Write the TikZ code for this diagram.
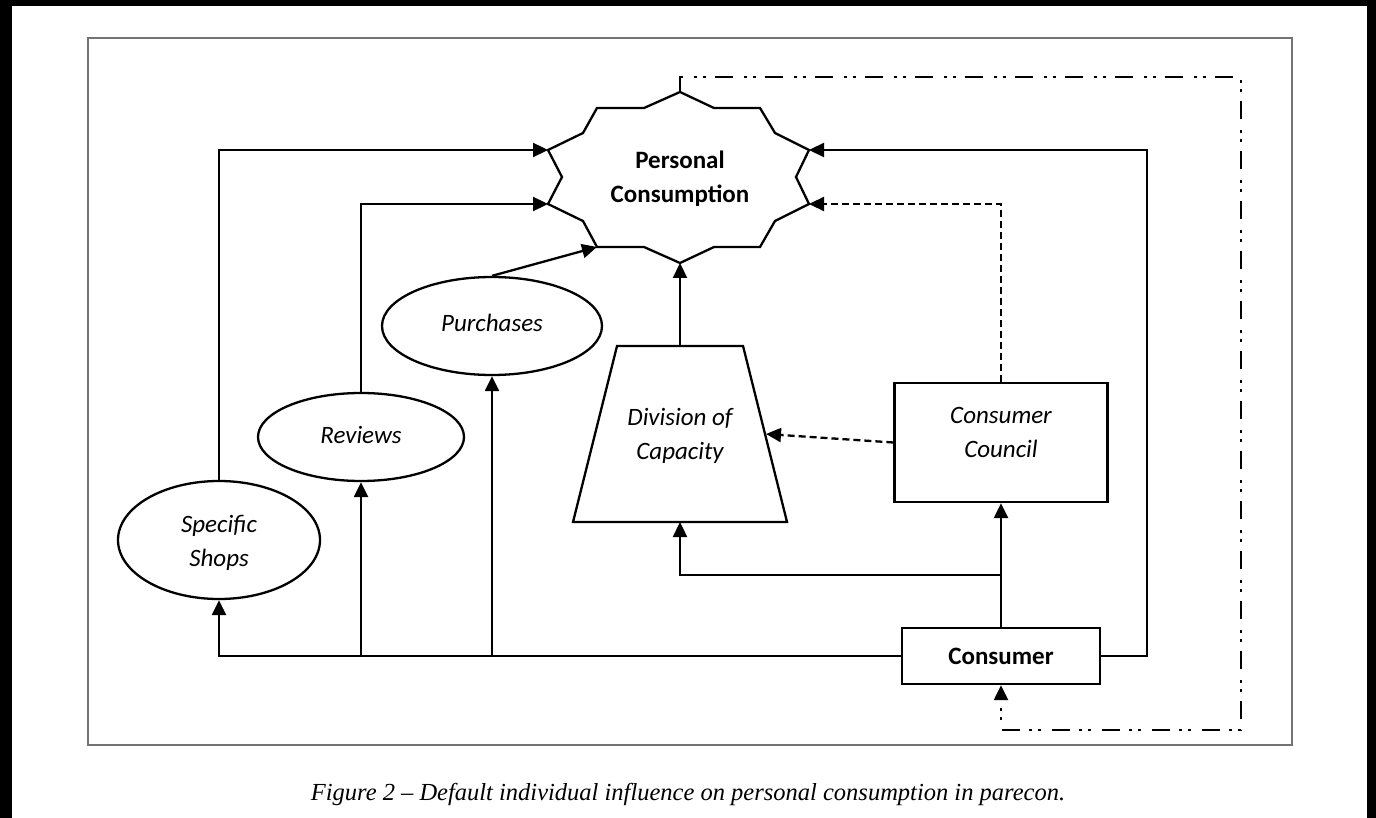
\documentclass[tikz,border=0pt]{standalone}
\usepackage{fontspec}
\setmainfont{Carlito}
\newfontfamily\capfont{Liberation Serif}
\usetikzlibrary{arrows.meta,shapes.geometric,calc}

\begin{document}
\begin{tikzpicture}[x=1pt,y=-1pt,line width=2.3pt,line join=miter,
  arr/.style={-{Triangle[length=15pt,width=14pt]}},
  dsh/.style={dash pattern=on 7pt off 4pt},
  dashdotdot/.style={dash pattern=on 18pt off 11pt on 3pt off 6pt on 3pt off 9pt},
  txt/.style={font=\fontsize{25}{34}\selectfont, align=center, inner sep=0pt},
  itxt/.style={font=\fontsize{25}{34}\selectfont\itshape, align=center, inner sep=0pt},
  oval/.style={ellipse, draw, inner sep=0pt},
  boxnode/.style={rectangle, draw, inner sep=0pt}]

% page and frame
\useasboundingbox (0,0) rectangle (1376,818);
\fill[black] (0,0) rectangle (1376,818);
\fill[white] (12,6) rectangle (1367,818);
\draw[line width=1.3pt, black!55] (88,38) rectangle (1292,745);

% starburst: Personal Consumption
\draw (680,92) coordinate (pcT) -- (714,108) -- (760,108) -- (775,133)
  -- (809,150) coordinate (pcR1) -- (796,177) -- (809,204) coordinate (pcR2)
  -- (775,221) -- (760,247) -- (714,247) -- (680,263) coordinate (pcB)
  -- (644,247) -- (597,247) coordinate (pcBL) -- (583,221)
  -- (548,204) coordinate (pcL2) -- (562,177) -- (548,150) coordinate (pcL1)
  -- (583,133) -- (597,108) -- (644,108) -- cycle;
\node[txt, font=\fontsize{25}{34}\selectfont\bfseries] (pc) at (680,179) {Personal\\Consumption};

% ellipses
\node[oval, minimum width=220pt, minimum height=98pt] (pur) at (492,326) {};
\node[itxt] (purT) at (492,323) {Purchases};
\node[oval, minimum width=206pt, minimum height=88pt] (rev) at (361,437) {};
\node[itxt] (revT) at (361,435) {Reviews};
\node[oval, minimum width=202pt, minimum height=118pt] (shop) at (219,540) {};
\node[itxt] (shopT) at (219,543) {Specific\\Shops};

% division of capacity (trapezoid)
\draw (617,346) coordinate (dcTop) -- (743,346) -- (787,522) -- (573,522) -- cycle;
\coordinate (dc) at (680,346);
\coordinate (dcBot) at (680,522);
\coordinate (dcR) at (766,434);
\node[itxt] (dcT) at (680,436) {Division of\\Capacity};

% boxes
\node[boxnode, minimum width=213pt, minimum height=119pt] (cc) at (1001,442.5) {};
\node[itxt] (ccT) at (1001,432) {Consumer\\Council};
\node[boxnode, minimum width=198pt, minimum height=56pt, txt, font=\fontsize{25}{34}\selectfont\bfseries] (con) at (1001,656) {Consumer};

% solid influences
\draw[arr] (pur.north) -- (pcBL);
\draw[arr] (rev.north) |- (pcL2);
\draw[arr] (shop.north) |- (pcL1);
\draw[arr] (dc) -- (pcB);
\draw[arr] (con.west) -| (shop.south);
\draw[arr] (rev.south |- con.west) -- (rev.south);
\draw[arr] (pur.south |- con.west) -- (pur.south);
\draw[arr] (con.north) -- (cc.south);
\coordinate (jct) at (1001,575);
\draw[arr] (jct) -| (dcBot);
\coordinate (rloop) at (1147,150);
\draw[arr] (con.east) -| (rloop) -- (pcR1);

% dashed influences of the council
\draw[arr, dsh] (cc.north) |- (pcR2);
\draw[arr, dsh] (cc.west) -- (dcR);

% feedback loop
\coordinate (fb1) at (680,77);
\coordinate (fb2) at (1241,77);
\coordinate (fb3) at (1241,730);
\coordinate (fb4) at (1001,730);
\draw[arr, dashdotdot] (pcT) -- (fb1) -- (fb2) -- (fb3) -- (fb4) -- (con.south);

% caption
\node[font=\capfont\itshape\fontsize{24.5}{28}\selectfont, inner sep=0pt] (cap) at (688,794)
  {Figure 2 – Default individual influence on personal consumption in parecon.};
\end{tikzpicture}
\end{document}
